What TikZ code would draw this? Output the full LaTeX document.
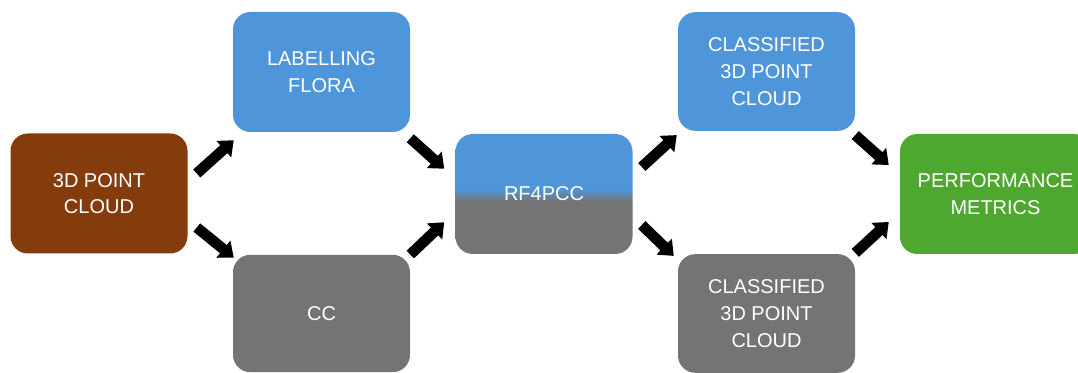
\documentclass[tikz,border=0pt]{standalone}
\usepackage{fontspec}
\setmainfont{Liberation Sans}
\usepackage{tikz}
\usetikzlibrary{arrows.meta}
\definecolor{cloudbrown}{HTML}{843C0C}
\definecolor{lightblue}{HTML}{4E95D9}
\definecolor{darkgray}{HTML}{747474}
\definecolor{metricgreen}{HTML}{4EA72E}
\pgfdeclareverticalshading{rfshading}{100bp}{color(0bp)=(darkgray); color(47bp)=(darkgray); color(52bp)=(lightblue); color(100bp)=(lightblue)}

\begin{document}
\begin{tikzpicture}[x=0.75pt,y=-0.75pt,
    box/.style={rounded corners=13pt,minimum width=132.75pt,minimum height=#1,
      text=white,align=center,font=\fontsize{15}{20}\selectfont,inner sep=0pt},
    box/.default=90pt,
    flow/.style={draw=black,line width=8pt,-{Triangle[width=16pt,length=10pt]}}]
  \useasboundingbox (0,0) rectangle (1078,373);
  \node[box,fill=cloudbrown] (pc) at (99,193.5) {3D POINT\\CLOUD};
  \node[box,fill=lightblue] (flora) at (321.5,72) {LABELLING\\FLORA};
  \node[box=88pt,fill=darkgray] (cc) at (321.5,313.5) {CC};
  \node[box,shade,shading=rfshading] (rf) at (544,194) {RF4PCC};
  \node[box=89pt,fill=lightblue] (clt) at (766.5,71.5) {CLASSIFIED\\3D POINT\\CLOUD};
  \node[box=89pt,fill=darkgray] (clb) at (766.5,313.5) {CLASSIFIED\\3D POINT\\CLOUD};
  \node[box,minimum width=143.25pt,fill=metricgreen] (pm) at (995.5,194) {PERFORMANCE\\METRICS};
  \draw[flow] ([shift={(9,-20)}]pc.east) -- ([shift={(1,8)}]flora.south west);
  \draw[flow] ([shift={(9,34)}]pc.east) -- ([shift={(1,3)}]cc.north west);
  \draw[flow] ([shift={(0,6)}]flora.south east) -- ([shift={(-11,35)}]rf.north west);
  \draw[flow] ([shift={(0,0)}]cc.north east) -- ([shift={(-11,-32)}]rf.south west);
  \draw[flow] ([shift={(9,-27)}]rf.east) -- ([shift={(-1,4)}]clt.south west);
  \draw[flow] ([shift={(9,31)}]rf.east) -- ([shift={(-4,2)}]clb.north west);
  \draw[flow] ([shift={(0,4)}]clt.south east) -- ([shift={(-11,-29)}]pm.west);
  \draw[flow] ([shift={(0,-1)}]clb.north east) -- ([shift={(-11,28)}]pm.west);
\end{tikzpicture}
\end{document}
